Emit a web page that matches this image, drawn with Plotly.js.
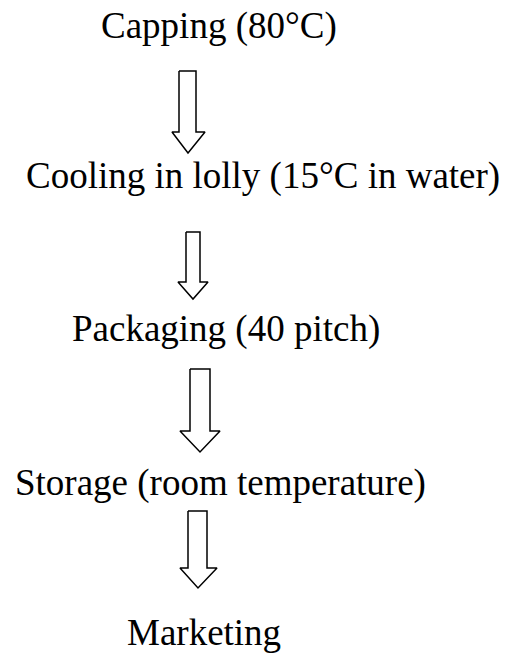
<!DOCTYPE html>
<html>
<head>
<meta charset="utf-8">
<script src="https://cdn.plot.ly/plotly-3.0.1.min.js"></script>
<style>html,body{margin:0;padding:0;background:#fff;}#chart{width:506px;height:654px;}</style>
</head>
<body>
<div id="chart"></div>
<script>
// Flow steps (text)
const steps = [
  "Capping (80°C)",
  "Cooling in lolly (15°C in water)",
  "Packaging (40 pitch)",
  "Storage (room temperature)",
  "Marketing"
];

// Layout geometry (pixels, y down)
const stepCenterX = [218.5, 262.5, 226, 220, 204];
const stepBaseline = [37, 187, 340, 494, 643];

// Arrow geometry: shaft left/right, top, head start, head left/right, tip y, tip x
const arrowShaftL = [179, 186, 190, 188];
const arrowShaftR = [196, 200, 210, 207];
const arrowTop    = [71, 232, 369, 511];
const arrowHeadY  = [132, 282, 431, 568];
const arrowHeadL  = [172, 178, 180, 180];
const arrowHeadR  = [205, 208, 220, 217];
const arrowTipY   = [153, 299, 452, 588];
const arrowTipX   = [188, 193, 200, 198];

const FONT = {family: "Liberation Serif, Times New Roman, serif", size: 37, color: "#000"};

const traces = arrowTop.map((t, i) => ({
  type: "scatter",
  mode: "lines",
  x: [arrowShaftL[i], arrowShaftR[i], arrowShaftR[i], arrowHeadR[i], arrowTipX[i], arrowHeadL[i], arrowShaftL[i], arrowShaftL[i]],
  y: [t, t, arrowHeadY[i], arrowHeadY[i], arrowTipY[i], arrowHeadY[i], arrowHeadY[i], t],
  fill: "toself",
  fillcolor: "#ffffff",
  line: {color: "#000000", width: 1.5},
  hoverinfo: "skip",
  showlegend: false
}));

const annotations = steps.map((s, i) => ({
  text: s,
  x: stepCenterX[i],
  y: stepBaseline[i] - 11,
  xref: "x", yref: "y",
  xanchor: "center", yanchor: "middle",
  showarrow: false,
  font: FONT
}));

const layout = {
  width: 506, height: 654,
  margin: {l: 0, r: 0, t: 0, b: 0},
  paper_bgcolor: "#ffffff", plot_bgcolor: "#ffffff",
  xaxis: {range: [0, 506], visible: false, fixedrange: true},
  yaxis: {range: [654, 0], visible: false, fixedrange: true},
  annotations: annotations,
  showlegend: false
};

Plotly.newPlot("chart", traces, layout, {staticPlot: true, displayModeBar: false});
</script>
</body>
</html>
